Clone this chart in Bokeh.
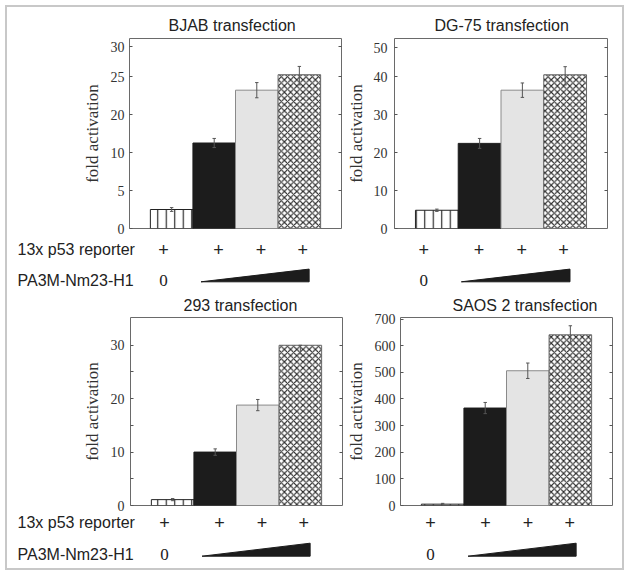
import numpy as np
from bokeh.plotting import figure
from bokeh.models import ColumnDataSource, FixedTicker, LinearAxis, Range1d, Title
from bokeh.core.properties import value
from bokeh.layouts import row, column
from bokeh.embed import file_html
from bokeh.resources import INLINE

# ---------------- data ----------------
conditions = ["vector", "Nm23-H1 low", "Nm23-H1 mid", "Nm23-H1 high"]
reporter_row = ["+", "+", "+", "+"]
row_label_1 = "13x p53 reporter"
row_label_2 = "PA3M-Nm23-H1"
zero_dose = "0"
y_title = "fold activation"

bjab_title = "BJAB transfection"
bjab_values = [2.5, 12.5, 23.2, 25.3]
bjab_errors = [0.25, 1.2, 1.0, 1.4]
bjab_tick_labels = [0, 5, 10, 20, 25, 30]

dg75_title = "DG-75 transfection"
dg75_values = [4.8, 22.4, 36.4, 40.6]
dg75_errors = [0.3, 1.3, 1.9, 2.8]
dg75_tick_labels = [0, 10, 20, 30, 40, 50]

h293_title = "293 transfection"
h293_values = [1.1, 10.0, 18.8, 30.1]
h293_errors = [0.2, 0.6, 1.05, 1.7]
h293_tick_labels = [0, 10, 20, 30]

saos_title = "SAOS 2 transfection"
saos_values = [5, 366, 506, 641]
saos_errors = [3, 21, 29, 34]
saos_tick_labels = [0, 100, 200, 300, 400, 500, 600, 700]

# ---------------- styles ----------------
SANS = "Liberation Sans"
SERIF = "Liberation Serif"
TXT = "#222222"
bar_fill = ["white", "#1c1c1c", "#e4e4e4", "white"]
bar_line = ["#222222", "#1c1c1c", "#8a8a8a", "#666666"]
bar_hatch = ["|", " ", " ", "x"]
bar_hatch_scale = [8.5, 6, 6, 6.2]
bar_hatch_weight = [1.2, 1, 1, 1.1]
plus_x = [0.31, 1.6, 2.6, 3.58]     # category units
wedge_x = [1.19, 3.73]
X0, X1 = -0.49, 4.49
MAIN_BB = 7   # bottom border of the bar panels (room for the "0" tick label)


def make_panel(title, values, errors, tick_labels, tick_pos, ymax, minor_pos, geo):
    tl = np.array(tick_labels, dtype=float)
    tp = np.array(tick_pos, dtype=float)
    vals = np.array(values, dtype=float)
    errs = np.array(errors, dtype=float)
    top = np.interp(vals, tl, tp)
    hi = np.interp(vals + errs, tl, tp)
    lo = np.interp(vals - errs, tl, tp)
    xs = np.arange(len(values)) + 0.5

    p = figure(frame_width=geo["fw"], frame_height=geo["fh"],
               min_border_left=geo["bl"], min_border_right=geo["br"],
               min_border_top=geo["bt"], min_border_bottom=MAIN_BB,
               x_range=Range1d(X0, X1), y_range=Range1d(0, ymax),
               x_axis_type=None, y_axis_type=None,
               output_backend="svg", toolbar_location=None, title=None)
    p.xgrid.visible = False
    p.ygrid.visible = False
    p.outline_line_color = "#6a6a6a"
    p.outline_line_width = 1
    p.border_fill_color = "white"

    src = ColumnDataSource(dict(x=xs, top=top, fill=bar_fill, line=bar_line,
                                hatch=bar_hatch, hscale=bar_hatch_scale,
                                hweight=bar_hatch_weight))
    p.vbar(x="x", top="top", bottom=0, width=1.0, source=src,
           fill_color="fill", line_color="line", line_width=1,
           hatch_pattern="hatch", hatch_scale="hscale", hatch_weight="hweight",
           hatch_color="#2a2a2a")
    p.segment(x0=xs, x1=xs, y0=lo, y1=hi, line_color="#555555", line_width=1)
    p.segment(x0=xs - 0.04, x1=xs + 0.04, y0=hi, y1=hi, line_color="#555555", line_width=1)
    p.segment(x0=xs - 0.04, x1=xs + 0.04, y0=lo, y1=lo, line_color="#555555", line_width=1)

    ax = LinearAxis(ticker=FixedTicker(ticks=list(tick_pos), minor_ticks=list(minor_pos)))
    ax.major_label_overrides = {float(a): str(b) for a, b in zip(tick_pos, tick_labels)}
    ax.axis_line_color = None
    ax.major_tick_in = 3
    ax.major_tick_out = 0
    ax.minor_tick_in = 3
    ax.minor_tick_out = 0
    ax.major_tick_line_color = "#555555"
    ax.minor_tick_line_color = "#555555"
    ax.major_label_text_font = SERIF
    ax.major_label_text_font_size = "14px"
    ax.major_label_text_color = "#333333"
    ax.major_label_standoff = geo["ls"]
    ax.axis_label = y_title
    ax.axis_label_text_font = SERIF
    ax.axis_label_text_font_size = "17px"
    ax.axis_label_text_font_style = "normal"
    ax.axis_label_text_color = "#333333"
    ax.axis_label_standoff = geo["as"]
    p.add_layout(ax, "left")

    right_ticks = [t for t in list(tick_pos)[1:] + list(minor_pos) if t < ymax * 0.97]
    rax = LinearAxis(ticker=FixedTicker(ticks=[], minor_ticks=right_ticks))
    rax.axis_line_color = None
    rax.major_tick_line_color = None
    rax.minor_tick_in = 3
    rax.minor_tick_out = 0
    rax.minor_tick_line_color = "#555555"
    p.add_layout(rax, "right")

    t = Title(text=title, align="left", offset=geo["to"], text_font=SANS,
              text_font_size="16px", text_font_style="normal",
              text_color=TXT, standoff=geo["ts"])
    p.add_layout(t, "above")
    return p


def make_rows(geo, rows, left_labels):
    width = geo["bl"] + geo["fw"] + geo["br"]
    u = (X1 - X0) / geo["fw"]
    xs0 = X0 - geo["bl"] * u
    xs1 = X1 + geo["br"] * u
    q = figure(frame_width=width, frame_height=rows["h"] - MAIN_BB,
               min_border_left=0, min_border_right=0, min_border_top=0,
               min_border_bottom=0, x_range=Range1d(xs0, xs1),
               y_range=Range1d(-rows["h"], -MAIN_BB), x_axis_type=None,
               y_axis_type=None, output_backend="svg", toolbar_location=None)
    q.xgrid.visible = False
    q.ygrid.visible = False
    q.outline_line_color = None
    q.text(x=plus_x, y=[-rows["plus"]] * 4, text=reporter_row,
           text_align="center", text_baseline="middle", text_font=value(SANS),
           text_font_size=value("18px"), text_color=TXT)
    q.text(x=[plus_x[0]], y=[-rows["zero"]], text=[zero_dose],
           text_align="center", text_baseline="middle", text_font=value(SERIF),
           text_font_size=value("17px"), text_color=TXT)
    q.patch(x=[wedge_x[0], wedge_x[1], wedge_x[1]],
            y=[-rows["wb"], -rows["wb"], -rows["wt"]],
            fill_color="#1c1c1c", line_color="#1c1c1c", line_width=1)
    if left_labels:
        lx = xs0 + geo["rlx"] * u
        q.text(x=[lx, lx], y=[-rows["plus"], -rows["zero"]],
               text=[row_label_1, row_label_2], text_align="left",
               text_baseline="middle", text_font=value(SANS),
               text_font_size=value("16px"), text_color=TXT)
    return q


rows_top = dict(h=62, plus=20.6, zero=51.6, wb=53.3, wt=40.6)
rows_bot = dict(h=62, plus=17.4, zero=49.4, wb=50.7, wt=37.7)

geo_a = dict(fw=212, fh=190, bl=121, br=2, bt=30, ls=5, **{"as": 6}, to=39, ts=10, rlx=9)
geo_b = dict(fw=213, fh=190, bl=46, br=14, bt=30, ls=7, **{"as": 5}, to=40, ts=10, rlx=9)
geo_c = dict(fw=212, fh=188, bl=122, br=1, bt=25, ls=6, **{"as": 6}, to=53, ts=8, rlx=9)
geo_d = dict(fw=212, fh=188, bl=53, br=8, bt=25, ls=5, **{"as": 6}, to=52, ts=8, rlx=9)

pa = make_panel(bjab_title, bjab_values, bjab_errors, bjab_tick_labels,
                [0, 5, 10, 15, 20, 23.9], 25.0, [], geo_a)
pb = make_panel(dg75_title, dg75_values, dg75_errors, dg75_tick_labels,
                [0, 10, 20, 30, 40, 47.6], 50.0, [], geo_b)
pc = make_panel(h293_title, h293_values, h293_errors, h293_tick_labels,
                h293_tick_labels, 35.2, [5, 15, 25], geo_c)
pd = make_panel(saos_title, saos_values, saos_errors, saos_tick_labels,
                saos_tick_labels, 706.0, [], geo_d)

ra = make_rows(geo_a, rows_top, True)
rb = make_rows(geo_b, rows_top, False)
rc = make_rows(geo_c, rows_bot, True)
rd = make_rows(geo_d, rows_bot, False)

layout = column(row(pa, pb), row(ra, rb), row(pc, pd), row(rc, rd),
                styles={"margin": "8px", "outline": "2px solid #c8c8c8",
                        "outline-offset": "1px"})

with open("out.html", "w") as f:
    f.write(file_html(layout, INLINE))
